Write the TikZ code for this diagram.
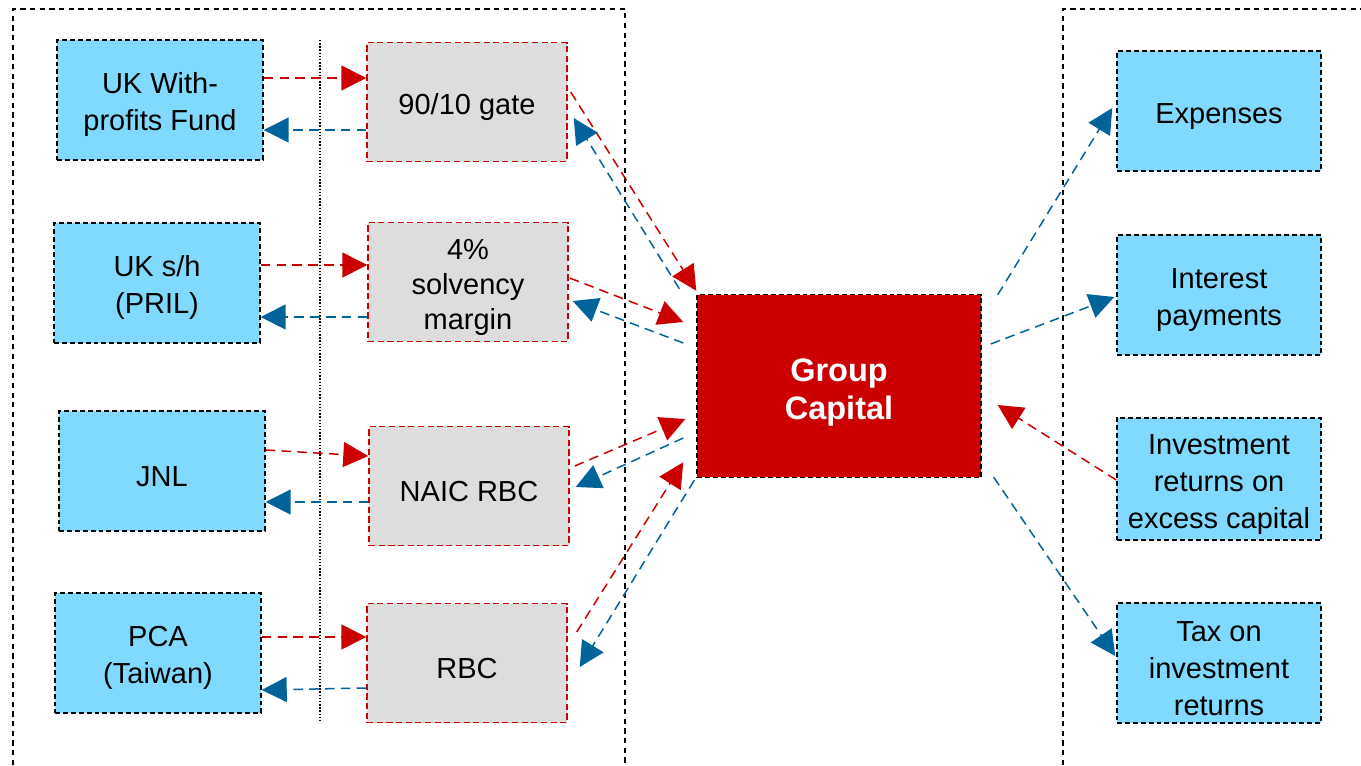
\documentclass[tikz,border=0pt]{standalone}
\usepackage{fontspec}
\setmainfont{Liberation Sans}
\usetikzlibrary{arrows.meta,positioning,calc}
\definecolor{gcRed}  {RGB}{204,  0,  0}
\definecolor{gcBlue} {RGB}{  0, 99,153}
\definecolor{gcSky}  {RGB}{128,217,255}
\definecolor{gcGrey} {RGB}{221,221,221}
\newcommand{\gcLift}{\rule{0pt}{17.5pt}}

\begin{document}
\begin{tikzpicture}[x=0.02cm,y=-0.02cm,
  every node/.style={font=\fontsize{16.5}{21}\selectfont},
  unit/.style={draw=black,fill=gcSky,line width=0.85pt,
               dash pattern=on 2.8pt off 1.7pt,
               minimum width=4.12cm,minimum height=2.4cm,align=center},
  test/.style={draw=gcRed,fill=gcGrey,line width=0.85pt,
               dash pattern=on 3.5pt off 2pt,
               minimum width=4cm,minimum height=2.38cm,align=center},
  capital/.style={draw=black,fill=gcRed,text=white,line width=0.85pt,
               dash pattern=on 2.8pt off 1.7pt,
               minimum width=5.68cm,minimum height=3.66cm,align=center,
               font=\fontsize{18.5}{21.5}\selectfont\bfseries},
  frame/.style={draw=black,line width=0.85pt,dash pattern=on 3pt off 2.5pt},
  upflow/.style={gcRed,line width=0.85pt,dash pattern=on 5.5pt off 3.5pt,
               -{Triangle[length=0.5cm,width=0.5cm]}},
  downflow/.style={gcBlue,line width=0.85pt,dash pattern=on 5.5pt off 3.5pt,
               -{Triangle[length=0.5cm,width=0.5cm]}}
]
\useasboundingbox (0,0) rectangle (1361,765);

% regions
\draw[frame] (13,765) -- (13,9) -- (625,9) -- (625,765);
\draw[frame] (1063,765) -- (1063,9) -- (1361,9);
\draw[line width=0.9pt,dash pattern=on 0.8pt off 1pt] (320,40) -- (320,723);

\node[unit] (ukwp) at (160,100) {\gcLift UK With-\\profits Fund};
\node[unit] (pril) at (157,283) {\gcLift UK s/h\\(PRIL)};
\node[unit] (jnl)  at (162,471) {\gcLift JNL};
\node[unit] (pca)  at (158,653) {\gcLift PCA\\(Taiwan)};

\node[test] (gate) at (467,102) {\gcLift 90/10 gate};
\node[test,font=\fontsize{16.5}{20}\selectfont] (solv) at (468,282) {\gcLift 4\%\\solvency\\margin};
\node[test] (naic) at (469,486) {\gcLift NAIC RBC};
\node[test] (rbc)  at (467,663) {\gcLift RBC};

\node[capital] (gc) at (839,386) {\rule{0pt}{20pt}Group\\Capital};

\node[unit,minimum width=4.08cm] (exp)  at (1219,111) {\gcLift Expenses};
\node[unit,minimum width=4.08cm] (intr) at (1219,295) {\gcLift Interest\\payments};
\node[unit,minimum width=4.08cm] (invr) at (1219,479) {\gcLift Investment\\returns on\\excess capital};
\node[unit,minimum width=4.08cm] (tax)  at (1219,663) {\gcLift Tax on\\investment\\returns};

% local tests
\draw[upflow]   ([shift={(0,-22)}]ukwp.east) -- ([shift={(0,-24)}]gate.west);
\draw[downflow] ([shift={(0,28)}]gate.west)  -- ([shift={(0,30)}]ukwp.east);
\draw[upflow]   ([shift={(0,-18)}]pril.east) -- ([shift={(0,-17)}]solv.west);
\draw[downflow] ([shift={(0,35)}]solv.west)  -- ([shift={(0,34)}]pril.east);
\draw[upflow]   ([shift={(0,-21)}]jnl.east)  -- ([shift={(0,-30)}]naic.west);
\draw[downflow] ([shift={(0,16)}]naic.west)  -- ([shift={(0,31)}]jnl.east);
\draw[upflow]   ([shift={(0,-16)}]pca.east)  -- ([shift={(0,-26)}]rbc.west);
\draw[downflow] ([shift={(0,25)}]rbc.west)   -- ([shift={(0,37)}]pca.east);

% to and from group
\draw[upflow]   ([shift={(3,-10)}]gate.east) -- ([shift={(0,-3)}]gc.north west);
\draw[downflow] ([shift={(-17,-5)}]gc.north west) -- ([shift={(6,16)}]gate.east);
\draw[upflow]   ([shift={(1,-4)}]solv.east) -- ([shift={(-13,-64)}]gc.west);
\draw[downflow] ([shift={(-13,-43)}]gc.west) -- ([shift={(4,19)}]solv.east);
\draw[upflow]   ([shift={(5,-20)}]naic.east) -- ([shift={(-11,33)}]gc.west);
\draw[downflow] ([shift={(-13,52)}]gc.west) -- ([shift={(6,1)}]naic.east);
\draw[upflow]   ([shift={(9,-31)}]rbc.east) -- ([shift={(-13,-16)}]gc.south west);
\draw[downflow] ([shift={(-2,2)}]gc.south west) -- ([shift={(12,4)}]rbc.east);

\draw[downflow] ([shift={(16,1)}]gc.north east) -- ([shift={(-4,-3)}]exp.west);
\draw[downflow] ([shift={(9,-42)}]gc.east) -- ([shift={(-2,2)}]intr.west);
\draw[upflow]   ([shift={(0,1)}]invr.west) -- ([shift={(16,19)}]gc.east);
\draw[downflow] ([shift={(12,-1)}]gc.south east) -- ([shift={(-1,-7)}]tax.west);
\end{tikzpicture}
\end{document}
